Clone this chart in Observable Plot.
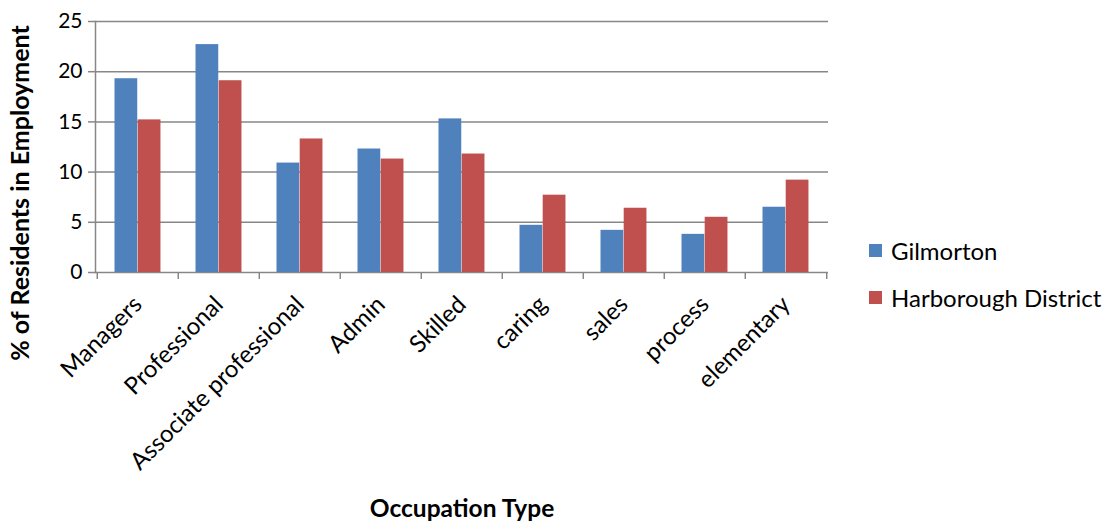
<!DOCTYPE html>
<html>
<head>
<meta charset="utf-8">
<script src="https://cdn.jsdelivr.net/npm/d3@7"></script>
<script src="https://cdn.jsdelivr.net/npm/@observablehq/plot@0.6"></script>
<style>
  html, body { margin: 0; padding: 0; background: #fff; }
  #wrap { position: relative; width: 1111px; height: 522px; font-family: Lato, sans-serif; }
  .item { position: absolute; left: 869px; display: flex; align-items: center; height: 30px; font-size: 24px; color: #000; white-space: nowrap; }
  .sw { width: 13px; height: 13px; margin-right: 9px; }
  #ytitle { position: absolute; left: 19px; top: 193px; transform: translate(-50%, -50%) rotate(-90deg); font-weight: bold; font-size: 25px; white-space: nowrap; color: #000; }
</style>
</head>
<body>
<div id="wrap"><div id="ytitle"></div></div>
<script>
const categories = ["Managers","Professional","Associate professional","Admin","Skilled","caring","sales","process","elementary"];
const gilmorton  = [19.3, 22.7, 10.9, 12.3, 15.3, 4.7, 4.2, 3.8, 6.5];
const harborough = [15.2, 19.1, 13.3, 11.3, 11.8, 7.7, 6.4, 5.5, 9.2];
const seriesNames = ["Gilmorton", "Harborough District"];
const seriesColors = ["#4F81BD", "#C0504D"];
const yTicks = [0, 5, 10, 15, 20, 25];
const yTitle = "% of Residents in Employment";
const xTitle = "Occupation Type";

const data = categories.map((c, i) => ({category: c, g: gilmorton[i], h: harborough[i]}));
const grid = "#878787";
const half = (1111 - 95 - 283) / categories.length / 2;

const chart = Plot.plot({
  width: 1111, height: 522,
  marginLeft: 95, marginRight: 283, marginTop: 21, marginBottom: 250,
  style: {fontFamily: "Lato, sans-serif", fontSize: "20px", color: "#000", background: "#fff"},
  x: {domain: categories, padding: 0, axis: null},
  y: {domain: [0, 25], axis: null},
  marks: [
    Plot.gridY(yTicks, {stroke: grid, strokeOpacity: 1, strokeWidth: 1.5}),
    Plot.frame({anchor: "left", stroke: grid, strokeWidth: 1.5}),
    Plot.axisY(yTicks, {tickSize: 7, tickPadding: 6, stroke: grid, strokeWidth: 1.5, fill: "#000", fontSize: 21, label: null}),
    Plot.barY(data, {x: "category", y: "g", fill: seriesColors[0], insetLeft: 17.5, insetRight: 2*half - 40.7}),
    Plot.barY(data, {x: "category", y: "h", fill: seriesColors[1], insetLeft: 40.7, insetRight: 2*half - 63.9}),
    Plot.axisX({tickSize: 0, tickRotate: -45, tickPadding: 28, fill: "#000", fontSize: 24, label: null}),
    Plot.axisX(categories, {tickSize: 7, tickFormat: () => "", dx: -half, stroke: grid, strokeWidth: 1.5, label: null}),
    Plot.axisX(categories.slice(-1), {tickSize: 7, tickFormat: () => "", dx: half, stroke: grid, strokeWidth: 1.5, label: null}),
    Plot.text([xTitle], {frameAnchor: "bottom", dy: 244, fontWeight: "bold", fontSize: 24.5, fill: "#000"})
  ]
});
const wrap = document.getElementById("wrap");
wrap.prepend(chart);
chart.style.position = "absolute"; chart.style.left = "0"; chart.style.top = "0";
document.getElementById("ytitle").textContent = yTitle;

const centers = [250.5, 297.5];
seriesNames.forEach((s, i) => {
  const it = document.createElement("div"); it.className = "item";
  it.style.top = (centers[i] - 15) + "px";
  const sw = document.createElement("div"); sw.className = "sw"; sw.style.background = seriesColors[i];
  const t = document.createElement("span"); t.textContent = s;
  it.append(sw, t); wrap.append(it);
});
</script>
</body>
</html>
